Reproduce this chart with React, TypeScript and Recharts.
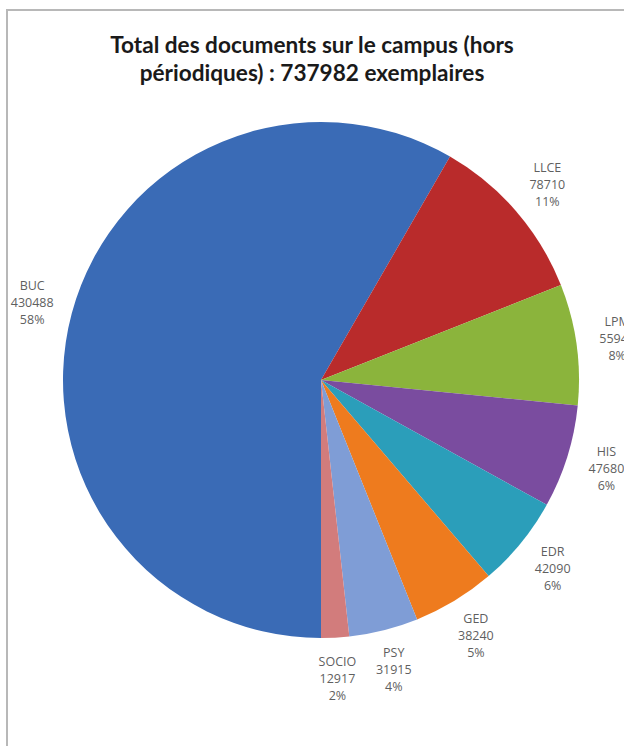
import React from "react";
import { PieChart, Pie, Cell } from "recharts";

const categories = ["BUC", "LLCE", "LPM", "HIS", "EDR", "GED", "PSY", "SOCIO"];
const values = [430488, 78710, 55942, 47680, 42090, 38240, 31915, 12917];
const colors = ["#3A6BB6", "#B92B2B", "#8BB43C", "#7A4C9F", "#2B9EBA", "#EE7B1E", "#7F9DD6", "#D27C7C"];
const titleLines = ["Total des documents sur le campus (hors", "périodiques) : 737982 exemplaires"];

const data = categories.map((name, i) => ({ name, value: values[i] }));

const RAD = Math.PI / 180;

const renderLabel = (props: any) => {
  const { cx, cy, midAngle, outerRadius, name, value, percent } = props;
  const r = outerRadius + 41;
  const x = cx + r * Math.cos(-midAngle * RAD);
  const y = cy + r * Math.sin(-midAngle * RAD);
  const lines = [name, String(value), `${Math.round(percent * 100)}%`];
  return (
    <text
      x={x}
      y={y}
      textAnchor="middle"
      fontFamily="'Open Sans', sans-serif"
      fontSize={12.5}
      fill="#5f5f5f"
    >
      {lines.map((l, i) => (
        <tspan key={i} x={x} y={y + 4 + (i - 1) * 17}>
          {l}
        </tspan>
      ))}
    </text>
  );
};

export default function App() {
  return (
    <div style={{ position: "relative", width: 624, height: 746, overflow: "hidden", background: "#fff" }}>
      <style>{`body{margin:0;}`}</style>
      <div
        style={{
          position: "absolute",
          left: 6,
          top: 9,
          width: 700,
          height: 800,
          borderLeft: "2px solid #b8b8b8",
          borderTop: "2px solid #b8b8b8",
        }}
      />
      <div
        style={{
          position: "absolute",
          left: 0,
          top: 31,
          width: 624,
          textAlign: "center",
          fontFamily: "Lato, sans-serif",
          fontWeight: 700,
          fontSize: 22.6,
          lineHeight: "28px",
          color: "#1a1a1a",
        }}
      >
        {titleLines.map((t, i) => (
          <div key={i}>{t}</div>
        ))}
      </div>
      <div style={{ position: "absolute", left: 0, top: 0 }}>
        <PieChart width={624} height={746} margin={{ top: 0, right: 0, bottom: 0, left: 0 }}>
          <Pie
            data={data}
            dataKey="value"
            nameKey="name"
            cx={321}
            cy={380}
            outerRadius={258}
            startAngle={-90}
            endAngle={-450}
            stroke="none"
            label={renderLabel}
            labelLine={false}
            isAnimationActive={false}
          >
            {data.map((d, i) => (
              <Cell key={d.name} fill={colors[i]} />
            ))}
          </Pie>
        </PieChart>
      </div>
    </div>
  );
}
